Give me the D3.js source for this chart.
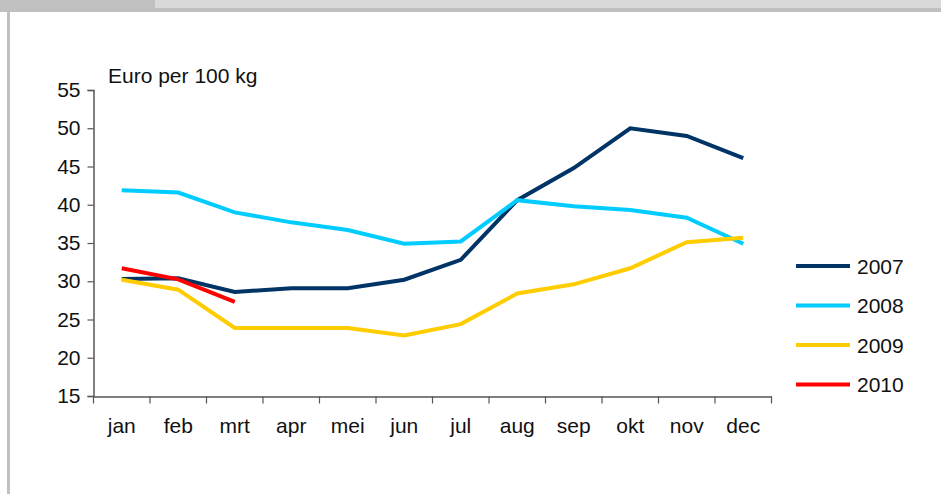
<!DOCTYPE html>
<html><head><meta charset="utf-8">
<script src="https://cdn.jsdelivr.net/npm/d3@7"></script>
<style>html,body{margin:0;padding:0;background:#fff;overflow:hidden}</style>
</head><body><svg id="c" width="941" height="494"></svg>
<script>
const months = ["jan","feb","mrt","apr","mei","jun","jul","aug","sep","okt","nov","dec"];
const yTicks = [15,20,25,30,35,40,45,50,55];
const years = ["2007","2008","2009","2010"];
const colors = ["#003366","#00ccff","#ffcc00","#ff0000"];
const v2007 = [30.3,30.4,28.6,29.1,29.1,30.2,32.8,40.6,44.8,50.0,49.0,46.1];
const v2008 = [41.9,41.6,39.0,37.7,36.7,34.9,35.2,40.6,39.8,39.3,38.3,34.9];
const v2009 = [30.2,28.9,23.9,23.9,23.9,22.9,24.4,28.4,29.6,31.7,35.1,35.7];
const v2010 = [31.7,30.25,27.3];
const series = [v2007,v2008,v2009,v2010];

const svg = d3.select("#c");
const font = "'Liberation Sans', Arial, sans-serif";

// frame decorations
svg.append("rect").attr("x",0).attr("y",0).attr("width",941).attr("height",8).attr("fill","#d9d9d9");
svg.append("rect").attr("x",0).attr("y",0).attr("width",155).attr("height",8).attr("fill","#c0c0c0");
svg.append("rect").attr("x",0).attr("y",8).attr("width",941).attr("height",4).attr("fill","#c0c0c0");
svg.append("rect").attr("x",7).attr("y",8).attr("width",3).attr("height",486).attr("fill","#c0c0c0");

const x = d3.scaleBand().domain(months).range([93.5,771.5]);
const y = d3.scaleLinear().domain([15,55]).range([396,90]);

const yAxis = svg.append("g").attr("transform","translate(93.5,0)")
  .call(d3.axisLeft(y).tickValues(yTicks).tickSize(6).tickPadding(7));
const xAxis = svg.append("g").attr("transform","translate(0,396.5)")
  .call(d3.axisBottom(x).tickSize(0).tickPadding(22));
// x tick marks at band boundaries
const bounds = months.map(m=>x(m)).concat([x.range()[1]]);
xAxis.selectAll(".bt").data(bounds).enter().append("line")
  .attr("x1",d=>d).attr("x2",d=>d).attr("y1",0).attr("y2",7).attr("stroke","#555").attr("stroke-width",1.2);

[yAxis,xAxis].forEach(a=>{
  a.selectAll("path").attr("stroke","#555").attr("stroke-width",1.5);
  a.selectAll(".tick line").attr("stroke","#555").attr("stroke-width",1.2);
  a.selectAll("text").attr("font-family",font).attr("font-size","21px").attr("fill","#111");
});

svg.append("text").attr("x",108).attr("y",83).attr("font-family",font).attr("font-size","21px")
  .attr("fill","#111").text("Euro per 100 kg");

const line = d3.line().x((d,i)=>x(months[i])+x.bandwidth()/2).y(d=>y(d));
series.forEach((s,k)=>{
  svg.append("path").datum(s).attr("d",line).attr("fill","none")
    .attr("stroke",colors[k]).attr("stroke-width",4).attr("stroke-linejoin","miter");
});

const leg = svg.append("g");
years.forEach((yr,k)=>{
  const cy = 266 + k*39.5;
  leg.append("line").attr("x1",796).attr("x2",850).attr("y1",cy).attr("y2",cy)
    .attr("stroke",colors[k]).attr("stroke-width",4);
  leg.append("text").attr("x",857).attr("y",cy+7.5).attr("font-family",font).attr("font-size","21px")
    .attr("fill","#111").text(yr);
});
</script></body></html>
